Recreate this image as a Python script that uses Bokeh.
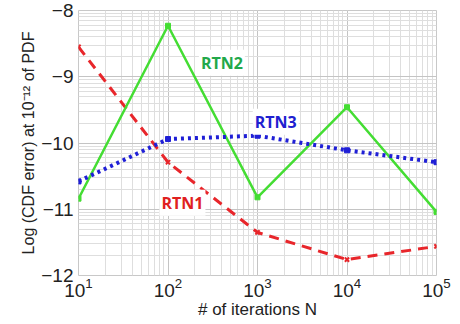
import math
from bokeh.plotting import figure
from bokeh.models import FixedTicker, LogTicker, Label
from bokeh.embed import file_html
from bokeh.resources import INLINE

# Data
iterations = [10, 100, 1000, 10000, 100000]
rtn1 = [-8.55, -10.29, -11.35, -11.76, -11.56]
rtn2 = [-10.84, -8.23, -10.82, -9.46, -11.04]
rtn3 = [-10.58, -9.94, -9.89, -10.11, -10.29]
y_ticks = [-12, -11, -10, -9, -8]

p = figure(width=460, height=324, x_axis_type="log",
           x_range=(10, 1e5), y_range=(-12, -8),
           output_backend="svg", toolbar_location=None,
           min_border_left=78, min_border_right=24,
           min_border_top=10, min_border_bottom=49)

p.outline_line_color = "#c8c8c8"
p.background_fill_color = "white"

p.xaxis.ticker = LogTicker(mantissas=[1], desired_num_ticks=5, num_minor_ticks=10)
minor_y = [n + math.log10(k) for n in range(-12, -8) for k in range(2, 10)]
p.yaxis.ticker = FixedTicker(ticks=y_ticks, minor_ticks=minor_y)

for g in (p.xgrid, p.ygrid):
    g.grid_line_color = "#c4c4c4"
    g.minor_grid_line_color = "#dedede"

for ax in (p.xaxis, p.yaxis):
    ax.axis_line_color = None
    ax.major_tick_in = 0
    ax.major_tick_out = 0
    ax.minor_tick_in = 0
    ax.minor_tick_out = 0
    ax.major_label_text_font = "Liberation Sans"
    ax.major_label_text_font_size = "19px"
    ax.major_label_text_color = "#222222"
    ax.axis_label_text_font = "Liberation Sans"
    ax.axis_label_text_font_style = "normal"
    ax.axis_label_text_color = "#222222"

p.xaxis.axis_label_text_font_size = "17px"
p.yaxis.axis_label_text_font_size = "16px"
p.xaxis.major_label_standoff = 2
p.yaxis.major_label_standoff = 5
p.xaxis.axis_label = "# of iterations N"
p.yaxis.axis_label = "Log (CDF error) at 10\u207b\u00b9\u00b2 of PDF"
p.xaxis.axis_label_standoff = 0
p.yaxis.axis_label_standoff = 1

# RTN1 red dashed
p.line(iterations, rtn1, line_color="#e8262b", line_width=3, line_dash="10 7")
p.scatter(iterations, rtn1, marker="x", size=6, line_color="#e8262b", line_width=2)
# RTN2 green solid
p.line(iterations, rtn2, line_color="#44dd33", line_width=2.5)
p.scatter(iterations, rtn2, marker="square", size=5, fill_color="#44dd33", line_color="#44dd33")
# RTN3 blue dotted
p.line(iterations, rtn3, line_color="#1f1fd6", line_width=4, line_dash="3 4")
p.scatter(iterations, rtn3, marker="square", size=5, fill_color="#1f1fd6", line_color="#1f1fd6")

def add_label(x, y, text, color):
    p.add_layout(Label(x=x, y=y, text=text, text_align="center", text_baseline="middle",
                       text_font="Open Sans", text_font_size="16px", text_font_style="bold",
                       text_color=color, background_fill_color="white",
                       padding=2))

add_label(400, -8.79, "RTN2", "#22a84a")
add_label(1600, -9.68, "RTN3", "#2020d0")
add_label(145, -10.9, "RTN1", "#e02020")

open("out.html", "w").write(file_html(p, INLINE))
